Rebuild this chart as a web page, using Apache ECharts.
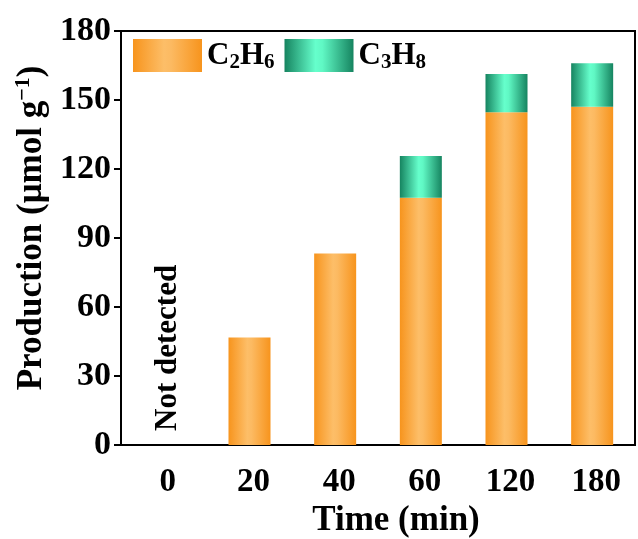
<!DOCTYPE html>
<html><head><meta charset="utf-8">
<script src="https://cdn.jsdelivr.net/npm/echarts@6/dist/echarts.min.js"></script>
<style>html,body{margin:0;padding:0;background:#fff}#c{width:638px;height:539px}</style>
</head><body><div id="c"></div>
<script>
const categories = ['0', '20', '40', '60', '120', '180'];
const c2h6 = [0, 46.7, 83.3, 107.5, 144.7, 147.1];
const c3h8 = [0, 0, 0, 18.2, 16.6, 18.9];
const yTicks = [0, 30, 60, 90, 120, 150, 180];

const font = '"Liberation Serif", "Times New Roman", serif';
const orange = new echarts.graphic.LinearGradient(0, 0, 1, 0, [
  {offset: 0, color: '#F7941D'}, {offset: 0.45, color: '#FDBE68'}, {offset: 0.55, color: '#FCBA62'}, {offset: 1, color: '#F7941D'}]);
const green = new echarts.graphic.LinearGradient(0, 0, 1, 0, [
  {offset: 0, color: '#168460'}, {offset: 0.45, color: '#66FFCC'}, {offset: 0.55, color: '#60F8C4'}, {offset: 1, color: '#168460'}]);

const chart = echarts.init(document.getElementById('c'));
chart.setOption({
  animation: false,
  grid: {left: 121, right: 3, top: 31, bottom: 94, show: true, borderColor: '#000', borderWidth: 2,
         containLabel: false, outerBoundsMode: 'none'},
  legend: {
    left: 133, top: 39, padding: 0, itemWidth: 69, itemHeight: 33, itemGap: 10,
    textStyle: {fontFamily: font, fontWeight: 'bold', fontSize: 31, color: '#000',
      rich: {s: {fontFamily: font, fontWeight: 'bold', fontSize: 21, color: '#000', padding: [14, 0, 0, 0]},
             n: {fontFamily: font, fontWeight: 'bold', fontSize: 31, color: '#000'}}},
    formatter: function (n) { return n === 'C2H6' ? '{n|C}{s|2}{n|H}{s|6}' : '{n|C}{s|3}{n|H}{s|8}'; },
    data: [{name: 'C2H6', icon: 'rect'}, {name: 'C3H8', icon: 'rect'}]
  },
  xAxis: {
    type: 'category', data: categories,
    axisLine: {lineStyle: {color: '#000', width: 2}},
    axisTick: {alignWithLabel: true, length: 8, lineStyle: {width: 2, color: '#000'}},
    axisLabel: {fontFamily: font, fontWeight: 'bold', fontSize: 33, color: '#000', margin: 21, padding: [0, 0, 0, 8]},
    name: 'Time (min)', nameLocation: 'middle', nameGap: 54,
    nameTextStyle: {fontFamily: font, fontWeight: 'bold', fontSize: 35, color: '#000', padding: [0, 0, 0, 36]}
  },
  yAxis: {
    type: 'value', min: 0, max: 180, interval: 30,
    splitLine: {show: false},
    axisLine: {show: true, lineStyle: {color: '#000', width: 2}},
    axisTick: {show: true, length: 7, lineStyle: {width: 2, color: '#000'}},
    axisLabel: {fontFamily: font, fontWeight: 'bold', fontSize: 34, color: '#000', margin: 10,
      formatter: function (v) { return yTicks.indexOf(v) >= 0 ? String(v) : ''; }},
    name: '{n|Production (μmol g}{sup|−1}{n|)}', nameLocation: 'middle', nameGap: 66,
    nameTextStyle: {fontFamily: font, fontWeight: 'bold', fontSize: 35, color: '#000', padding: [0, 0, 0, 20],
      rich: {n: {fontFamily: font, fontWeight: 'bold', fontSize: 35, color: '#000'},
             sup: {fontFamily: font, fontWeight: 'bold', fontSize: 22, color: '#000', padding: [0, 0, 16, 0]}}}
  },
  series: [
    {name: 'C2H6', type: 'bar', stack: 't', data: c2h6, barWidth: 42, itemStyle: {color: orange},
     label: {show: true, position: 'insideBottom', rotate: 90, align: 'left', verticalAlign: 'middle', distance: 14,
       offset: [0, 4],
       fontFamily: font, fontWeight: 'bold', fontSize: 31, color: '#000',
       formatter: function (p) { return p.dataIndex === 0 ? 'Not detected' : ''; }}},
    {name: 'C3H8', type: 'bar', stack: 't', data: c3h8, barWidth: 42, itemStyle: {color: green}}
  ]
});
</script></body></html>
